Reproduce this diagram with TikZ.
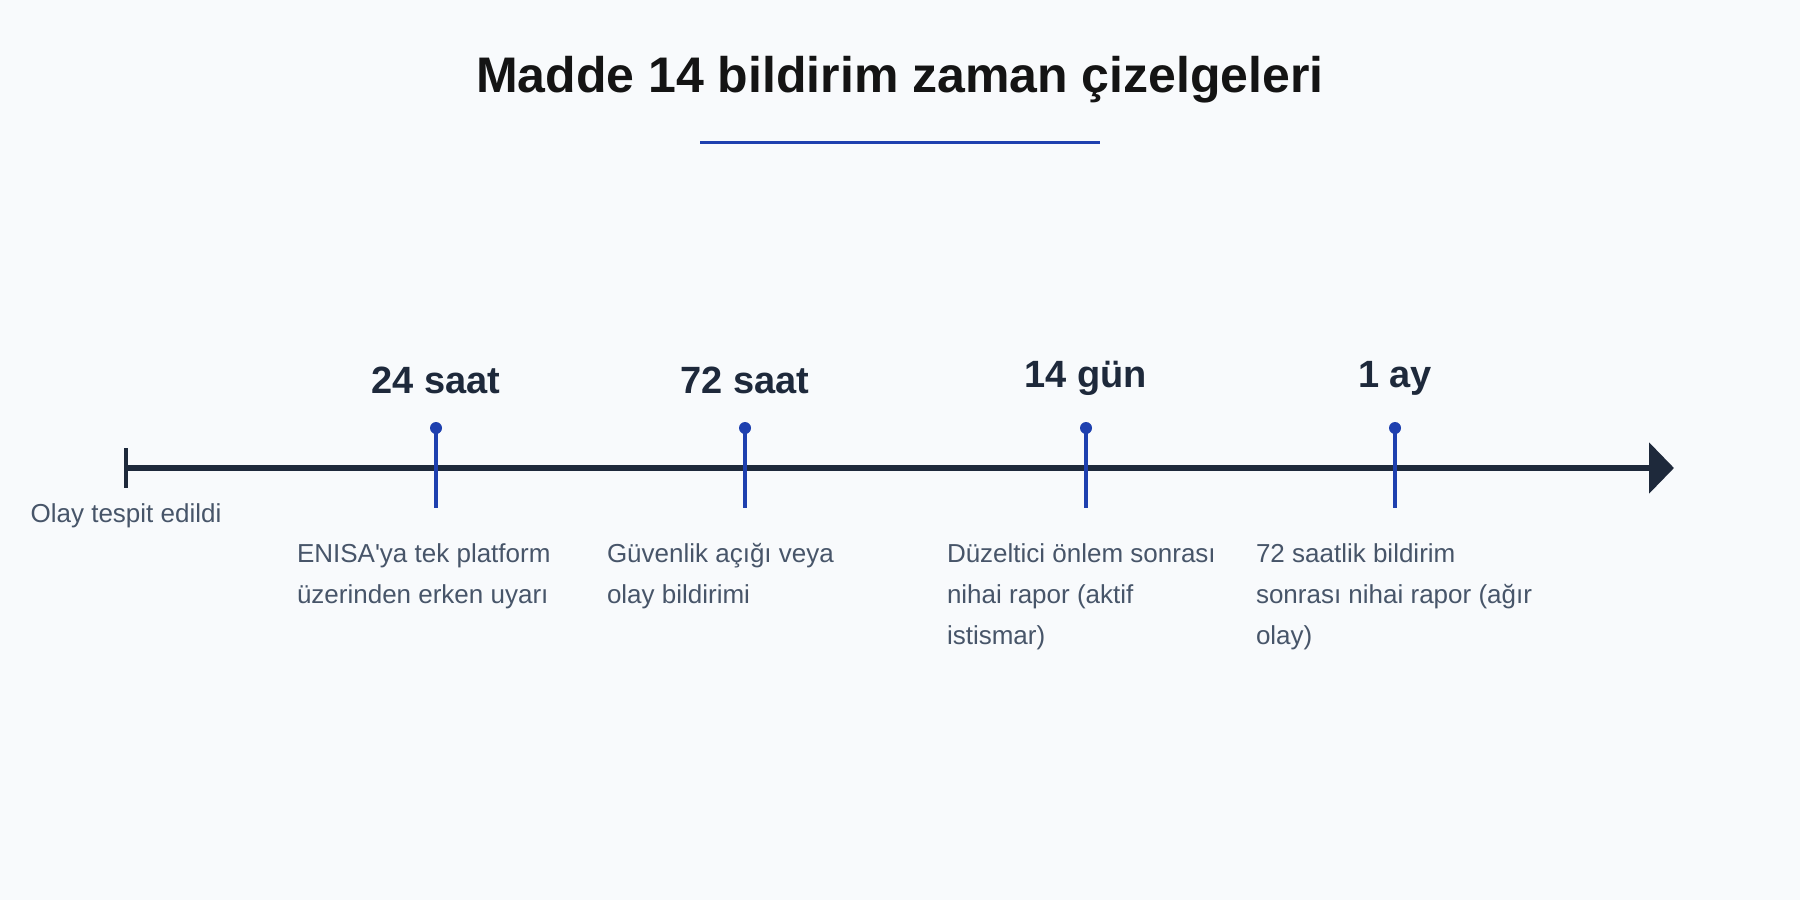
\documentclass[tikz,border=0pt]{standalone}
\usepackage{fontspec}
\setmainfont{Liberation Sans}
\usetikzlibrary{arrows.meta}
\definecolor{bgcol}{HTML}{F8FAFC}
\definecolor{inkcol}{HTML}{141414}
\definecolor{navycol}{HTML}{1E293B}
\definecolor{slatecol}{HTML}{475569}
\definecolor{bluecol}{HTML}{1E40AF}

\begin{document}
\begin{tikzpicture}[x=0.5pt, y=-0.5pt,
  every node/.style={inner sep=0pt, outer sep=0pt},
  dot/.style={circle, fill=bluecol, minimum size=6pt},
  stem/.style={draw=bluecol, line width=2pt},
  when/.style={anchor=base, text=navycol, font=\bfseries\fontsize{19}{22}\selectfont},
  what/.style={anchor=base west, align=left, text=slatecol, font=\fontsize{13}{20.5}\selectfont}]
\fill[bgcol] (0,0) rectangle (1800,900);
\node[anchor=base, text=inkcol, font=\bfseries\fontsize{25}{30}\selectfont] (TTL) at (900,92) {Madde 14 bildirim zaman çizelgeleri};
\draw[bluecol, line width=1.5pt] (700,142) -- (1100,142);
% zaman ekseni
\coordinate (A0) at (126,468);
\coordinate (A1) at (1674,468);
\draw[navycol, line width=3pt, -{Triangle[length=12.5pt, width=25pt]}] (A0) -- (A1);
\draw[navycol, line width=2pt] (126,448) -- (126,488);
\node[anchor=base, text=slatecol, font=\fontsize{13}{16}\selectfont] (L0) at (126,522) {Olay tespit edildi};
% kilometre taşları
\node[dot] (M1) at (436,428) {};
\node[dot] (M2) at (745,428) {};
\node[dot] (M3) at (1086,428) {};
\node[dot] (M4) at (1395,428) {};
\draw[stem] (M1.center) -- (436,508);
\draw[stem] (M2.center) -- (745,508);
\draw[stem] (M3.center) -- (1086,508);
\draw[stem] (M4.center) -- (1395,508);
\node[when] (W1) at (436,393) {24 saat};
\node[when] (W2) at (745,393) {72 saat};
\node[when] (W3) at (1086,387) {14 gün};
\node[when] (W4) at (1395,387) {1 ay};
% açıklamalar (taban: son satır)
\node[what] (D1) at (297,603) {ENISA\textquotesingle ya tek platform\\üzerinden erken uyarı};
\node[what] (D2) at (607,603) {Güvenlik açığı veya\\olay bildirimi};
\node[what] (D3) at (947,644) {Düzeltici önlem sonrası\\nihai rapor (aktif\\istismar)};
\node[what] (D4) at (1256,644) {72 saatlik bildirim\\sonrası nihai rapor (ağır\\olay)};
\end{tikzpicture}
\end{document}
